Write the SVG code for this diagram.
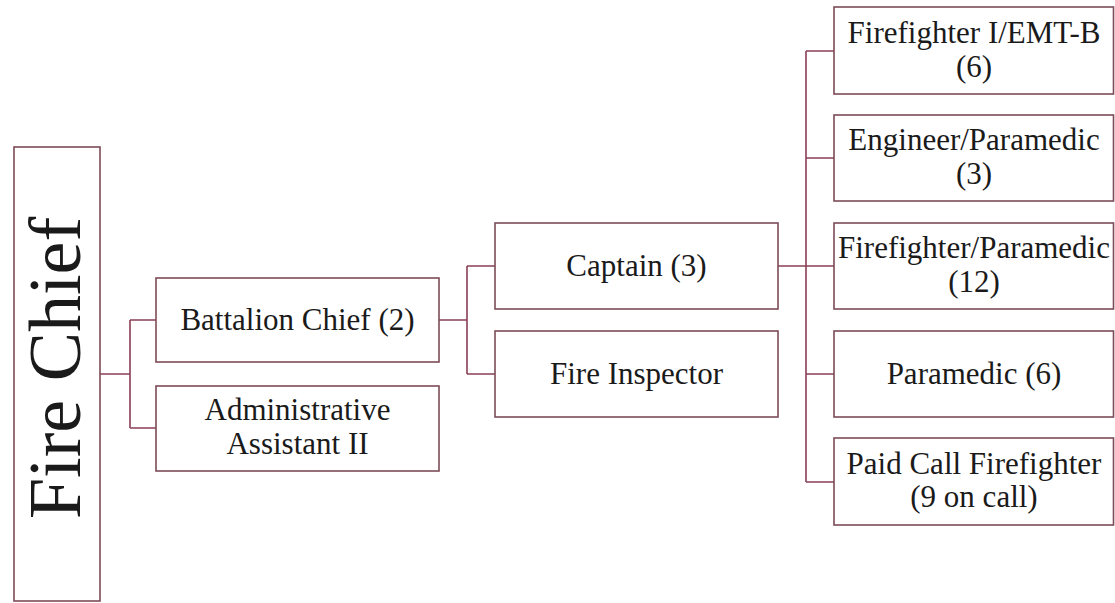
<svg xmlns="http://www.w3.org/2000/svg" width="1115" height="603" viewBox="0 0 1115 603">
<style>
.box{fill:#ffffff;stroke:#7d4b58;stroke-width:1.6}
.ln{fill:none;stroke:#8a3f55;stroke-width:1.6}
.t{font-family:"Liberation Serif","Times New Roman",serif;font-size:31px;fill:#1a1a1a;text-anchor:middle}
.big{font-family:"Liberation Serif","Times New Roman",serif;font-size:74px;fill:#1a1a1a;text-anchor:middle}
</style>
<rect x="0" y="0" width="1115" height="603" fill="#ffffff"/>
<g id="connectors">
<path class="ln" d="M100,374H130M130,320V428M130,320H156M130,428H156"/>
<path class="ln" d="M439,320H467M467,266V374M467,266H495M467,374H495"/>
<path class="ln" d="M778,266H834M806,51V482M806,51H834M806,158H834M806,374H834M806,482H834"/>
</g>
<g id="fire-chief">
<rect class="box" x="14" y="147" width="86" height="454"/>
<text class="big" transform="translate(80,368) rotate(-90)">Fire Chief</text>
</g>
<g id="battalion-chief">
<rect class="box" x="156" y="278" width="283" height="84"/>
<text class="t" x="297.5" y="330">Battalion Chief (2)</text>
</g>
<g id="admin-assistant">
<rect class="box" x="156" y="386" width="283" height="85"/>
<text class="t" x="297.5" y="420">Administrative</text>
<text class="t" x="297.5" y="454">Assistant II</text>
</g>
<g id="captain">
<rect class="box" x="495" y="223" width="283" height="86"/>
<text class="t" x="636.5" y="276">Captain (3)</text>
</g>
<g id="fire-inspector">
<rect class="box" x="495" y="331" width="283" height="86"/>
<text class="t" x="636.5" y="384">Fire Inspector</text>
</g>
<g id="firefighter-emt">
<rect class="box" x="834" y="7" width="279.5" height="87"/>
<text class="t" x="974" y="43">Firefighter I/EMT-B</text>
<text class="t" x="974" y="77">(6)</text>
</g>
<g id="engineer-paramedic">
<rect class="box" x="834" y="115" width="279.5" height="86"/>
<text class="t" x="974" y="150">Engineer/Paramedic</text>
<text class="t" x="974" y="184">(3)</text>
</g>
<g id="firefighter-paramedic">
<rect class="box" x="834" y="223" width="279.5" height="86"/>
<text class="t" x="974" y="258">Firefighter/Paramedic</text>
<text class="t" x="974" y="292">(12)</text>
</g>
<g id="paramedic">
<rect class="box" x="834" y="331" width="279.5" height="86"/>
<text class="t" x="974" y="384">Paramedic (6)</text>
</g>
<g id="paid-call-firefighter">
<rect class="box" x="834" y="438" width="279.5" height="87"/>
<text class="t" x="974" y="474">Paid Call Firefighter</text>
<text class="t" x="974" y="507">(9 on call)</text>
</g>
</svg>
